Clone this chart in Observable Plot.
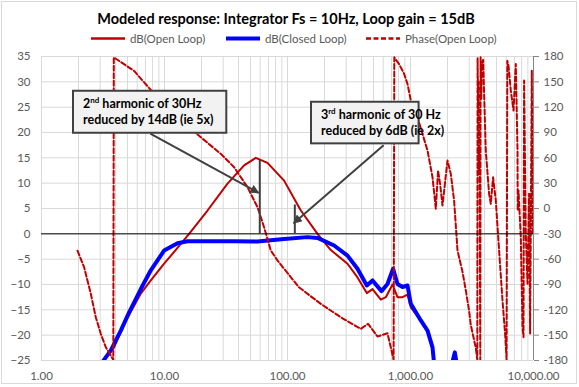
<!DOCTYPE html>
<html><head><meta charset="utf-8">
<script src="https://cdn.jsdelivr.net/npm/d3@7"></script>
<script src="https://cdn.jsdelivr.net/npm/@observablehq/plot@0.6"></script>
<style>
body{margin:0;background:#fff;}
#chart{width:579px;height:387px;}
</style></head><body><div id="chart"></div>
<script>
// ---- data (frequency in Hz) ----
const openFreq = [2.978, 3.893, 4.694, 6.417, 7.738, 9.925, 13.57, 15.85, 22.37, 32.52, 44.38, 55.24, 68.77, 93.83, 128.3, 175.4, 224.9, 307.5, 370.8, 441.3, 491.0, 573.5, 629.8, 713.9, 784.0, 860.9, 945.4, 1005.6, 1212.7, 1375, 1510, 1576, 2107, 2292, 2424];
const openDb   = [-26, -22.4, -17.8, -11.8, -9.2, -5.9, -2.0, 0, 4.6, 9.9, 13.5, 15.0, 14.0, 10.5, 4.6, 0, -3.2, -5.9, -8.6, -11.7, -10.9, -13.0, -12.5, -10.0, -12.5, -12.5, -12.0, -14.5, -17.1, -19.1, -22.4, -27, -27, -23.8, -27];

const closedFreq = [2.923, 3.660, 4.413, 5.155, 6.417, 7.738, 9.925, 12.76, 15.38, 22.37, 36.81, 57.04, 93.83, 145.4, 175.4, 239.3, 307.5, 370.8, 441.3, 491.0, 581.1, 650.1, 722.0, 784.0, 860.9, 945.4, 1005.6, 1212.7, 1375, 1510, 1576, 2107, 2292, 2424];
const closedDb   = [-26.3, -23.0, -19.1, -15.5, -10.9, -7.2, -3.3, -1.85, -1.45, -1.45, -1.45, -1.5, -1.0, -0.65, -0.8, -2.3, -4.3, -6.9, -10.2, -9.2, -11.3, -9.9, -6.9, -9.9, -10.5, -10.2, -13.8, -17.1, -19.1, -22.4, -27, -27, -23.4, -27];

const phaseFreq = [1.962, 2.220, 2.517, 2.763, 3.035, 3.332, 3.659, 3.835, 3.871, 5.660, 8.231, 12.76, 19.73, 28.69, 36.80, 47.30, 57.03, 64.53, 73.15, 83.40, 123.6, 186.5, 271.3, 394.4, 452.1, 539.2, 650.1, 728.8, 738.4, 807.8, 887.1, 945.4, 1005.6, 1140, 1375, 1510, 1606, 1676, 1740, 1820, 1999, 2126, 2262, 2411, 2647, 2816, 2995, 3092, 3395, 3492, 3512, 3545, 3571, 3612, 3639, 3694, 3715, 3764, 3799, 3893, 4094, 4356, 4496, 4693, 4937, 5253, 5597, 5877, 6044, 6124, 6263, 6537, 6878, 7180, 7413, 7440, 7552, 7884, 8139, 8293, 8386, 8658, 8937, 9209, 9383, 9687, 9870];
const phaseDeg  = [-50, -69.5, -101, -128.8, -148.4, -164.3, -174, -179.5, 179, 163, 135.8, 108, 84.4, 64.7, 48.9, 25.2, 1.5, -22.2, -49.8, -62, -93.2, -112.9, -128.8, -142.5, -136.6, -151.6, -147.7, -179, 179, 171, 159.5, 147.6, 127.9, 108, 68.6, 37, -0.4, 45, 29.2, 3.5, 56.8, 41, 9.5, -49.8, -75, -97, -121, -138, -165, -179, 178, 120, 150, 40, 70, -179, 179, 130, 170, 176, 68.6, 17.4, 5.5, 37, 9.5, -49.8, -109, -148.4, -179, 175, 169, 139.8, 116, 171, 68.6, -2.4, 21.3, -34, -140.6, -152.4, 151.5, -30, -89, 17.4, -148, 163, -30];

// harmonic markers
const markerFreq = [59.5, 114.7];
const markerTop  = [14.6, 5.7];

// ticks
const xTicks = [1, 10, 100, 1000, 10000];
const dbTicks = [-25, -20, -15, -10, -5, 0, 5, 10, 15, 20, 25, 30, 35];
const phaseTicks = [-180, -150, -120, -90, -60, -30, 0, 30, 60, 90, 120, 150, 180];

const titleText = "Modeled response: Integrator Fs = 10Hz, Loop gain = 15dB";
const seriesNames = ["dB(Open Loop)", "dB(Closed Loop)", "Phase(Open Loop)"];

// annotations: box corners (Hz, dB), text, arrow from/to (Hz, dB)
const annFreq1 = [1.820, 156.7];
const annFreq2 = [32.10, 1174.7];
const annDbTop = [28.14, 25.97];
const annDbBot = [19.85, 17.76];
const annNum = ["2", "3"];
const annSup = ["nd", "rd"];
const annLine1 = [" harmonic of 30Hz", " harmonic of 30 Hz"];
const annLine2 = ["reduced by 14dB (ie 5x)", "reduced by 6dB (ie 2x)"];
const arrowFromF = [7.738, 610.1];
const arrowFromDb = [19.7, 17.4];
const arrowToF = [58.77, 113.2];
const arrowToDb = [8.0, 2.0];

// ---- build ----
const RED = "#C00000", BLUE = "#0000FF";
const open = openFreq.map((f, i) => ({f, v: openDb[i]}));
const closed = closedFreq.map((f, i) => ({f, v: closedDb[i]}));
const phase = phaseFreq.map((f, i) => ({f, p: phaseDeg[i]}));
const markers = markerFreq.map((f, i) => ({f, top: markerTop[i]}));
const toDb = p => p / 6 + 5;           // secondary axis mapping: -180..180 -> -25..35
const fromDb = v => Math.round((v - 5) * 6);
const gridFreqs = [];
for (let k = 0; k < 4; k++) for (let m = 1; m < 10; m++) gridFreqs.push(m * Math.pow(10, k));
gridFreqs.push(10000);

const FONT = "Lato, 'Noto Sans', sans-serif";

const chart = Plot.plot({
  width: 579, height: 387,
  marginTop: 56, marginBottom: 27, marginLeft: 41, marginRight: 46,
  style: {fontFamily: FONT, fontSize: "11.5px", color: "#595959", background: "#fff"},
  x: {type: "log", domain: [1, 10000]},
  y: {domain: [-25, 35]},
  marks: [
    Plot.ruleX(gridFreqs, {stroke: "#d9d9d9"}),
    Plot.ruleY(dbTicks, {stroke: "#d9d9d9"}),
    Plot.ruleX([10000], {stroke: "#868686"}),
    Plot.axisX(xTicks, {tickSize: 0, tickPadding: 11, tickFormat: d3.format(",.2f"), label: null}),
    Plot.axisY(dbTicks, {anchor: "left", tickSize: 0, tickPadding: 11, label: null}),
    Plot.axisY(phaseTicks.map(toDb), {anchor: "right", tickSize: 5, tickPadding: 5, stroke: "#868686", tickFormat: fromDb, label: null}),
    Plot.line(open, {x: "f", y: "v", stroke: RED, strokeWidth: 2, clip: true}),
    Plot.line(closed, {x: "f", y: "v", stroke: BLUE, strokeWidth: 4, clip: true}),
    Plot.line(phase, {x: "f", y: d => toDb(d.p), stroke: RED, strokeWidth: 2, strokeDasharray: "5,2.5", clip: true}),
    Plot.ruleY([0], {stroke: "#000", strokeWidth: 1}),
    Plot.ruleX(markers, {x: "f", y1: 0, y2: "top", stroke: "#404040", strokeWidth: 2})
  ]
});

const svg = d3.select(chart);
const xs = chart.scale("x"), ys = chart.scale("y");
const X = v => xs.apply(v), Y = v => ys.apply(v);

// outer chart border
svg.insert("rect", ":first-child").attr("x", 1.5).attr("y", 1.5).attr("width", 575).attr("height", 382)
  .attr("fill", "none").attr("stroke", "#d9d9d9");

// title
svg.append("text").attr("x", 286).attr("y", 24).attr("text-anchor", "middle")
  .attr("font-family", FONT).attr("font-weight", "bold").attr("font-size", 14.5).attr("fill", "#000")
  .text(titleText);

// legend
const leg = svg.append("g").attr("font-family", FONT).attr("font-size", 11.5).attr("fill", "#595959")
  .attr("text-anchor", "start");
const legX = [91, 226, 366];
const legStyle = [{c: RED, w: 2.5, d: null}, {c: BLUE, w: 4, d: null}, {c: RED, w: 2.5, d: "5,2.5"}];
seriesNames.forEach((name, i) => {
  const l = leg.append("line").attr("x1", legX[i]).attr("x2", legX[i] + 34).attr("y1", 38.5).attr("y2", 38.5)
    .attr("stroke", legStyle[i].c).attr("stroke-width", legStyle[i].w);
  if (legStyle[i].d) l.attr("stroke-dasharray", legStyle[i].d);
  leg.append("text").attr("x", legX[i] + 39).attr("y", 42.5).attr("text-anchor", "start").text(name);
});

// annotations
svg.append("defs").append("marker").attr("id", "ah").attr("viewBox", "0 0 10 10")
  .attr("refX", 9).attr("refY", 5).attr("markerWidth", 5.5).attr("markerHeight", 4.5)
  .attr("orient", "auto").attr("markerUnits", "strokeWidth")
  .append("path").attr("d", "M0,0L10,5L0,10z").attr("fill", "#404040");
const ann = svg.append("g").attr("text-anchor", "start");
annNum.forEach((n, i) => {
  const x0 = X(annFreq1[i]), x1 = X(annFreq2[i]), y0 = Y(annDbTop[i]), y1 = Y(annDbBot[i]);
  ann.append("line").attr("x1", X(arrowFromF[i])).attr("y1", Y(arrowFromDb[i]))
    .attr("x2", X(arrowToF[i])).attr("y2", Y(arrowToDb[i]))
    .attr("stroke", "#404040").attr("stroke-width", 2).attr("marker-end", "url(#ah)");
  ann.append("rect").attr("x", x0).attr("y", y0).attr("width", x1 - x0).attr("height", y1 - y0)
    .attr("fill", "#f2f2f2").attr("stroke", "#404040").attr("stroke-width", 2);
  const t = ann.append("text").attr("text-anchor", "start").attr("font-family", FONT)
    .attr("font-weight", "bold").attr("font-size", 12.5).attr("fill", "#000");
  const t1 = t.append("tspan").attr("x", x0 + 10).attr("y", y0 + 17);
  t1.append("tspan").text(n);
  t1.append("tspan").attr("font-size", 8).attr("dy", -5).text(annSup[i]);
  t1.append("tspan").attr("dy", 5).text(annLine1[i]);
  t.append("tspan").attr("x", x0 + 10).attr("y", y0 + 33.5).text(annLine2[i]);
});

document.getElementById("chart").appendChild(chart);
</script></body></html>
